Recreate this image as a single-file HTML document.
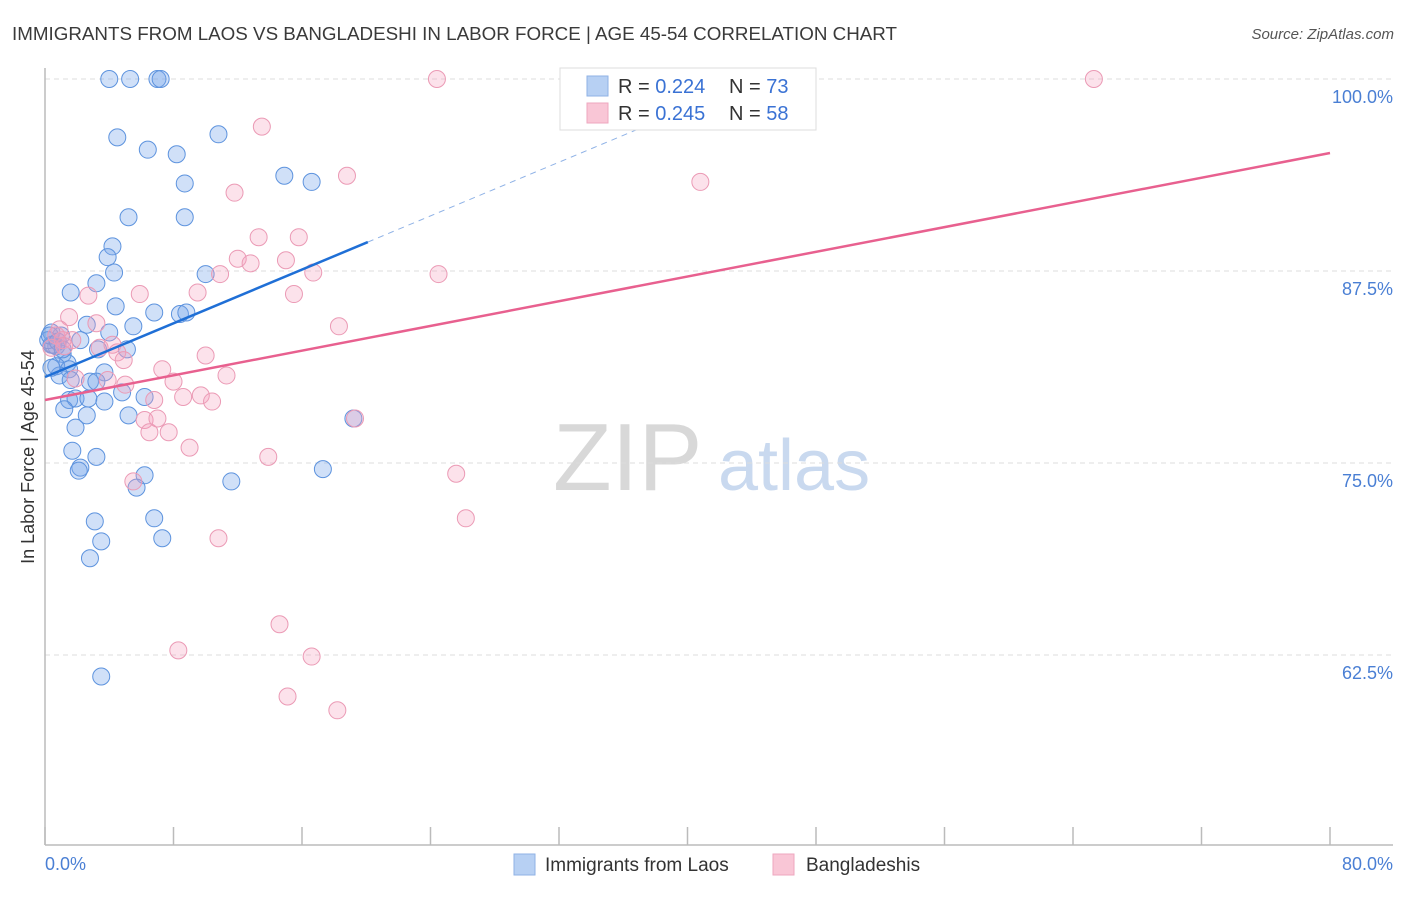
<!DOCTYPE html>
<html><head><meta charset="utf-8"><style>
body{margin:0;background:#fff;font-family:"Liberation Sans",sans-serif;}
svg text{font-family:"Liberation Sans",sans-serif;}
</style></head><body>
<svg id="chart" width="1406" height="892" viewBox="0 0 1406 892" xmlns="http://www.w3.org/2000/svg">
<text x="12" y="40" font-size="18.8" fill="#3a3a3a">IMMIGRANTS FROM LAOS VS BANGLADESHI IN LABOR FORCE | AGE 45-54 CORRELATION CHART</text>
<text x="1394" y="39" font-size="15" fill="#555" font-style="italic" text-anchor="end">Source: ZipAtlas.com</text>
<text x="553" y="490" font-size="96" fill="#d8d8d8" font-family="Liberation Serif, serif">ZIP</text>
<text x="718" y="490" font-size="72" fill="#c9d9ef">atlas</text>
<g id="grid"></g>
<g id="axes"></g>
<g id="marks"></g>
<text transform="translate(34,457) rotate(-90)" font-size="18" fill="#333" text-anchor="middle">In Labor Force | Age 45-54</text>
<g>
<rect x="560" y="68" width="256" height="62" fill="#fff" stroke="#ddd"/>
<rect x="587" y="76" width="21" height="20" fill="#b7d0f3" stroke="#8fb2e6"/>
<text x="618" y="93" font-size="20" fill="#333">R = <tspan fill="#3a72d4">0.224</tspan></text>
<text x="729" y="93" font-size="20" fill="#333">N = <tspan fill="#3a72d4">73</tspan></text>
<rect x="587" y="103" width="21" height="20" fill="#f9c6d6" stroke="#eea7bf"/>
<text x="618" y="120" font-size="20" fill="#333">R = <tspan fill="#3a72d4">0.245</tspan></text>
<text x="729" y="120" font-size="20" fill="#333">N = <tspan fill="#3a72d4">58</tspan></text>
</g>
<g>
<rect x="514" y="854" width="21" height="21" fill="#b7d0f3" stroke="#8fb2e6"/>
<text x="545" y="871" font-size="19" fill="#333">Immigrants from Laos</text>
<rect x="773" y="854" width="21" height="21" fill="#f9c6d6" stroke="#eea7bf"/>
<text x="806" y="871" font-size="19" fill="#333">Bangladeshis</text>
</g>
</svg>
<script>
const yTicks=[100,87.5,75,62.5];
const yTickLabels=["100.0%","87.5%","75.0%","62.5%"];
const xTickVals=[0,8,16,24,32,40,48,56,64,72,80];
const xEndLabels=["0.0%","80.0%"];
const laosX=[4.0,5.3,7.0,7.2,4.5,10.8,6.4,8.2,8.7,14.9,16.6,5.2,8.7,4.2,3.9,4.3,10.0,3.2,1.6,4.4,6.8,8.4,8.8,5.5,2.6,0.4,1.0,4.0,2.2,0.4,0.7,3.3,5.1,1.1,1.4,0.7,1.5,0.9,3.7,2.8,3.2,4.8,6.2,1.5,1.9,2.7,3.7,1.2,2.6,5.2,19.2,1.9,1.7,3.2,2.2,2.1,6.2,17.3,11.6,5.7,3.1,6.8,3.5,7.3,2.8,3.5,0.5,0.2,0.3,0.8,1.1,0.4,1.6];
const laosY=[100,100,100,100,96.2,96.4,95.4,95.1,93.2,93.7,93.3,91.0,91.0,89.1,88.4,87.4,87.3,86.7,86.1,85.2,84.8,84.7,84.8,83.9,84.0,83.5,83.3,83.5,83.0,82.7,82.6,82.4,82.4,82.1,81.5,81.3,81.1,80.7,80.9,80.3,80.3,79.6,79.3,79.1,79.2,79.2,79.0,78.5,78.1,78.1,77.9,77.3,75.8,75.4,74.7,74.5,74.2,74.6,73.8,73.4,71.2,71.4,69.9,70.1,68.8,61.1,82.7,83.0,83.3,82.9,82.4,81.2,80.4];
const bangX=[24.4,65.3,13.5,18.8,40.8,11.8,13.3,15.8,12.0,12.8,15.0,10.9,16.7,24.5,2.7,5.9,9.5,15.5,1.5,3.2,18.3,0.7,1.1,1.7,3.4,4.2,4.5,4.9,10.0,7.3,1.9,3.9,5.0,8.0,11.3,6.8,8.6,9.7,10.4,6.2,7.0,6.5,7.7,9.0,13.9,25.6,5.5,26.2,10.8,14.6,8.3,16.6,15.1,18.2,19.3,0.9,0.4,1.2];
const bangY=[100,100,96.9,93.7,93.3,92.6,89.7,89.7,88.3,88.0,88.2,87.3,87.4,87.3,85.9,86.0,86.1,86.0,84.5,84.1,83.9,83.3,83.0,83.0,82.5,82.7,82.2,81.7,82.0,81.1,80.5,80.4,80.1,80.3,80.7,79.1,79.3,79.4,79.0,77.8,77.9,77.0,77.0,76.0,75.4,74.3,73.8,71.4,70.1,64.5,62.8,62.4,59.8,58.9,77.9,83.7,82.5,82.6];
const laosFit=[80.6,0.437];   // intercept, slope
const bangFit=[79.1,0.201];

const NS="http://www.w3.org/2000/svg";
const X0=45,X1=1330,Ytop=79,PXPER=15.36;
const xs=v=>X0+(v/80)*(X1-X0);
const ys=v=>Ytop+(100-v)*PXPER;
function mk(tag,attrs,parent){const e=document.createElementNS(NS,tag);for(const k in attrs)e.setAttribute(k,attrs[k]);document.getElementById(parent).appendChild(e);return e;}

yTicks.forEach((t,i)=>{
  const l=mk('line',{x1:45,x2:1393,y1:ys(t),y2:ys(t),stroke:'#ddd','stroke-dasharray':'5,4'},'grid');
  
  
  const tx=mk('text',{x:1393,y:ys(t)+24,'font-size':18,fill:'#4a7fd4','text-anchor':'end'},'grid');
  tx.textContent=yTickLabels[i];
  
  
});
const ax=mk('line',{x1:45,x2:1393,y1:845,y2:845,stroke:'#bbb','stroke-width':1.5},'axes');


const ay=mk('line',{x1:45,x2:45,y1:68,y2:845,stroke:'#bbb','stroke-width':1.5},'axes');


xTickVals.forEach(v=>{
  const t=mk('line',{x1:xs(v),x2:xs(v),y1:827,y2:845,stroke:'#bbb','stroke-width':1.5},'axes');
  
  
});
const xl0=mk('text',{x:45,y:870,'font-size':18,fill:'#4a7fd4'},'axes');
xl0.textContent=xEndLabels[0];


const xl1=mk('text',{x:1393,y:870,'font-size':18,fill:'#4a7fd4','text-anchor':'end'},'axes');
xl1.textContent=xEndLabels[1];



laosX.forEach((v,i)=>{
  const c=mk('circle',{cx:xs(v),cy:ys(laosY[i]),r:8.5,fill:'rgba(120,165,235,0.35)',stroke:'#5d93de','stroke-width':1},'marks');
  
  
});
bangX.forEach((v,i)=>{
  const c=mk('circle',{cx:xs(v),cy:ys(bangY[i]),r:8.5,fill:'rgba(245,160,190,0.3)',stroke:'#eb9ab5','stroke-width':1},'marks');
  
  
});
const lx1=20.1,lx2=39;
const lb=mk('line',{x1:xs(0),y1:ys(laosFit[0]),x2:xs(lx1),y2:ys(laosFit[0]+laosFit[1]*lx1),stroke:'#1f6fd6','stroke-width':2.5},'marks');


const ld=mk('line',{x1:xs(lx1),y1:ys(laosFit[0]+laosFit[1]*lx1),x2:xs(lx2),y2:ys(laosFit[0]+laosFit[1]*lx2),stroke:'#8fb2e6','stroke-width':1,'stroke-dasharray':'6,5'},'marks');


const lp=mk('line',{x1:xs(0),y1:ys(bangFit[0]),x2:xs(80),y2:ys(bangFit[0]+bangFit[1]*80),stroke:'#e8608f','stroke-width':2.5},'marks');


</script>
</body></html>
